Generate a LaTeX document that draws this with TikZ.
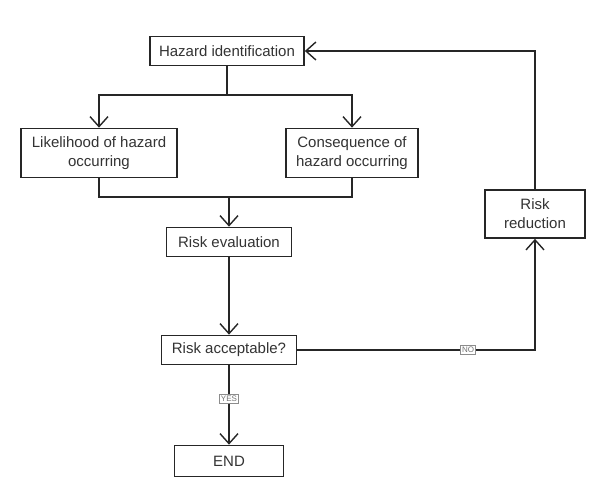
\documentclass[tikz,border=0pt]{standalone}
\usepackage{fontspec}
\setmainfont{Liberation Sans}
\usetikzlibrary{arrows.meta}

\tikzset{
  box/.style={draw=black!85, line width=1.7pt, fill=white, inner sep=0pt,
    align=center, text=black!80, font=\fontsize{15}{19}\selectfont},
  tag/.style={draw=black!45, line width=0.7pt, fill=white, inner sep=1.5pt,
    text=black!55, font=\fontsize{8}{9}\selectfont},
  flow/.style={line width=1.4pt, draw=black!85},
  arr/.style={flow, -{Straight Barb[length=10pt,width=18pt,line width=1.4pt]}}
}

\begin{document}
\begin{tikzpicture}[x=1pt,y=-1pt]
            \useasboundingbox (0,0) rectangle (602,489);
            % boxes
            \node[box, minimum width=154pt, minimum height=29pt] (haz) at (227,51) {Hazard identification};
            \node[box, minimum width=156pt, minimum height=49pt] (like) at (99,153) {Likelihood of hazard\\occurring};
            \node[box, minimum width=132pt, minimum height=49pt] (cons) at (352,153) {Consequence of\\hazard occurring};
            \node[box, minimum width=125pt, minimum height=29pt] (evalbox) at (229,242) {Risk evaluation};
            \node[box, minimum width=135pt, minimum height=29pt] (accept) at (229,350) {Risk acceptable?};
            \node[box, minimum width=100pt, minimum height=48pt] (reduce) at (535,214) {Risk\\reduction};
            \node[box, minimum width=109pt, minimum height=31pt] (finish) at (229,461) {END};
            % labels on the lines
            \node[tag] (no) at (468,350) {NO};
            \node[tag] (yes) at (229,399) {YES};
            \coordinate (split) at (227,95);
            \coordinate (join) at (229,197);
            % connectors
            \draw[flow] (haz) -- (split);
            \draw[arr] (split) -| (like);
            \draw[arr] (split) -| (cons);
            \draw[flow] (like) |- (join);
            \draw[flow] (cons) |- (join);
            \draw[arr] (join) -- (evalbox);
            \draw[arr] (evalbox) -- (accept);
            \draw[flow] (accept) -- (no);
            \draw[arr] (no) -| (reduce);
            \draw[flow] (accept) -- (yes);
            \draw[arr] (yes) -- (finish);
            \draw[arr] (reduce) |- (haz);
        \end{tikzpicture}
\end{document}
